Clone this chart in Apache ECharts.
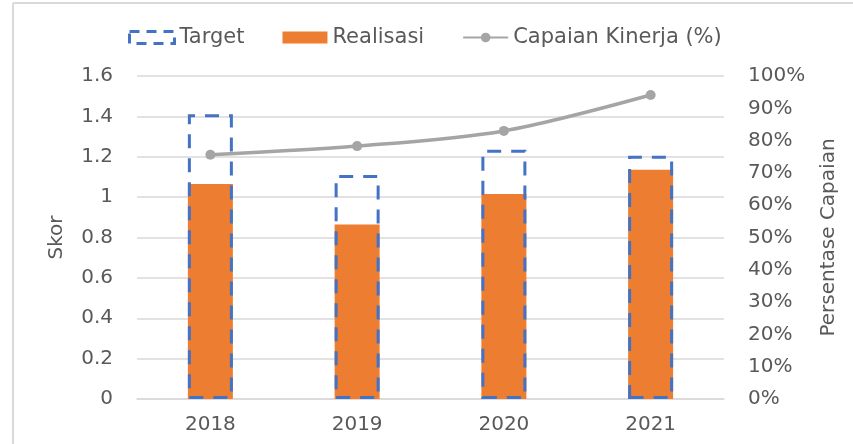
<!DOCTYPE html>
<html><head><meta charset="utf-8">
<script src="https://cdn.jsdelivr.net/npm/echarts@6/dist/echarts.min.js"></script>
<style>
html,body{margin:0;padding:0;background:#fff;}
#wrap{position:absolute;left:0;top:0;width:853px;height:444px;}
#c{width:853px;height:444px;}
</style></head>
<body><div id="wrap"><div id="c"></div></div>
<script>
const categories = ['2018','2019','2020','2021'];
const target = [1.41, 1.11, 1.235, 1.205];
const realisasi = [1.065, 0.865, 1.015, 1.135];
const capaian = [75.6, 78.3, 83.0, 94.1];
const leftTicks = [0, 0.2, 0.4, 0.6, 0.8, 1, 1.2, 1.4, 1.6];

const font = '"DejaVu Sans", sans-serif';
const txt = '#595959';
const chart = echarts.init(document.getElementById('c'), null, {renderer:'canvas'});
chart.setOption({
  animation:false,
  backgroundColor:'#fff',
  graphic:[
    {type:'line', shape:{x1:13,y1:3,x2:853,y2:3}, style:{stroke:'#d9d9d9',lineWidth:2}},
    {type:'line', shape:{x1:13,y1:3,x2:13,y2:444}, style:{stroke:'#d9d9d9',lineWidth:2}}
  ],
  legend:{
    top:22, left:123,
    itemGap:38, itemWidth:45, itemHeight:12,
    textStyle:{fontFamily:font, fontSize:21, color:txt},
    data:[
      {name:'Target', icon:'rect', itemStyle:{color:'transparent', borderColor:'#4472c4', borderWidth:3, borderType:[10,7]}},
      {name:'Realisasi', icon:'rect'},
      {name:'Capaian Kinerja (%)'}
    ]
  },
  grid:{left:137, right:129, top:76, bottom:45},
  xAxis:{
    type:'category', data:categories,
    axisLine:{lineStyle:{color:'#d9d9d9', width:1.5}},
    axisTick:{show:false},
    axisLabel:{fontFamily:font, fontSize:20, color:txt, margin:16}
  },
  yAxis:[
    {type:'value', min:0, max:1.6, interval:0.2,
     name:'Skor', nameLocation:'middle', nameGap:70, nameRotate:90,
     nameTextStyle:{fontFamily:font, fontSize:20, color:txt},
     axisLabel:{fontFamily:font, fontSize:20, color:txt, margin:24, formatter:v=>String(Math.round(v*10)/10)},
     splitLine:{lineStyle:{color:'#d9d9d9', width:1.5}}
    },
    {type:'value', min:0, max:100, interval:10, position:'right',
     name:'Persentase Capaian', nameLocation:'middle', nameGap:95, nameRotate:90,
     nameTextStyle:{fontFamily:font, fontSize:20, color:txt},
     axisLabel:{fontFamily:font, fontSize:20, color:txt, margin:24, formatter:'{value}%'},
     splitLine:{show:false}
    }
  ],
  series:[
    {name:'Realisasi', type:'bar', data:realisasi, barWidth:45, barGap:'-100%',
     itemStyle:{color:'#ed7d31'}},
    {name:'Target', type:'bar', data:target, barWidth:45, barGap:'-100%',
     itemStyle:{color:'transparent', borderColor:'#4472c4', borderWidth:3, borderType:[14,10]}},
    {name:'Capaian Kinerja (%)', type:'line', yAxisIndex:1, data:capaian, smooth:0.3,
     symbol:'circle', symbolSize:10,
     lineStyle:{color:'#a5a5a5', width:3.5}, itemStyle:{color:'#a5a5a5'}}
  ]
});
</script></body></html>
